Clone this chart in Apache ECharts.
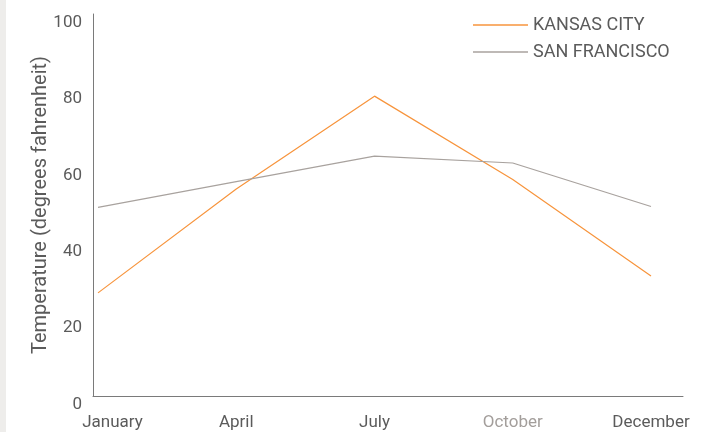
<!DOCTYPE html>
<html>
<head>
<meta charset="utf-8">
<script src="https://cdn.jsdelivr.net/npm/echarts@6/dist/echarts.min.js"></script>
<style>
  html, body { margin: 0; padding: 0; background: #fff; }
  #main { width: 709px; height: 432px; position: relative; }
  .strip { position: absolute; left: 0; top: 0; width: 6px; height: 432px; background: #eeedeb; z-index: 10; }
</style>
</head>
<body>
<div class="strip"></div>
<div id="main"></div>
<script>
var months = ['January', 'April', 'July', 'October', 'December']
var kansasCity = [27, 54.2, 78.5, 56.7, 31.4]
var sanFrancisco = [49.4, 56.1, 62.8, 61, 49.6]
var yTicks = [0, 20, 40, 60, 80, 100]

var textColor = '#5b5b5b'
var fontFamily = 'Roboto'

var chart = echarts.init(document.getElementById('main'))

var option = {
  animation: false,
  textStyle: { fontFamily: fontFamily },
  legend: {
    orient: 'vertical',
    left: 468,
    top: 11,
    itemWidth: 55,
    itemHeight: 1.5,
    itemGap: 9,
    icon: 'rect',
    textStyle: { fontSize: 18, color: textColor },
    data: ['KANSAS CITY', 'SAN FRANCISCO']
  },
  grid: [
    // axis lines
    { left: 93, right: 26, top: 14, bottom: 36 },
    // plotted data
    { left: 98, right: 58, top: 14, bottom: 36 }
  ],
  xAxis: [
    {
      gridIndex: 0,
      type: 'value',
      min: 0,
      max: 1,
      axisLine: { show: true, lineStyle: { color: '#7a7a7a', width: 1 } },
      axisTick: { show: false },
      axisLabel: { show: false },
      splitLine: { show: false }
    },
    {
      gridIndex: 1,
      type: 'category',
      boundaryGap: false,
      data: months,
      axisLine: { show: false },
      axisTick: { show: false },
      splitLine: { show: false },
      axisLabel: {
        interval: 0,
        hideOverlap: false,
        margin: 18,
        fontSize: 17,
        color: textColor,
        formatter: function (v, i) {
          if (i === 0) return '{first|' + v + '}'
          if (v === 'October') return '{muted|' + v + '}'
          return v
        },
        rich: {
          first: { fontSize: 17, color: textColor, padding: [0, 0, 0, 29] },
          muted: { fontSize: 17, color: '#a39e9b' }
        }
      }
    }
  ],
  yAxis: [
    {
      gridIndex: 0,
      type: 'value',
      min: yTicks[0],
      max: yTicks[yTicks.length - 1],
      interval: yTicks[1] - yTicks[0],
      name: 'Temperature (degrees fahrenheit)',
      nameLocation: 'middle',
      nameGap: 42,
      nameMoveOverlap: false,
      nameTextStyle: { fontSize: 20, color: textColor },
      axisLine: { show: true, lineStyle: { color: '#7a7a7a', width: 1 } },
      axisTick: { show: false },
      splitLine: { show: false },
      axisLabel: {
        margin: 11,
        fontSize: 17,
        color: textColor,
        verticalAlign: 'top'
      }
    },
    {
      gridIndex: 1,
      type: 'value',
      min: yTicks[0],
      max: yTicks[yTicks.length - 1],
      interval: yTicks[1] - yTicks[0],
      show: false,
      splitLine: { show: false }
    }
  ],
  series: [
    {
      name: 'KANSAS CITY',
      type: 'line',
      xAxisIndex: 1,
      yAxisIndex: 1,
      data: kansasCity,
      symbol: 'none',
      lineStyle: { color: '#f7943c', width: 1.2 },
      itemStyle: { color: '#f7943c' }
    },
    {
      name: 'SAN FRANCISCO',
      type: 'line',
      xAxisIndex: 1,
      yAxisIndex: 1,
      data: sanFrancisco,
      symbol: 'none',
      lineStyle: { color: '#a8a29e', width: 1.2 },
      itemStyle: { color: '#a8a29e' }
    }
  ]
}

chart.setOption(option)
</script>
</body>
</html>
